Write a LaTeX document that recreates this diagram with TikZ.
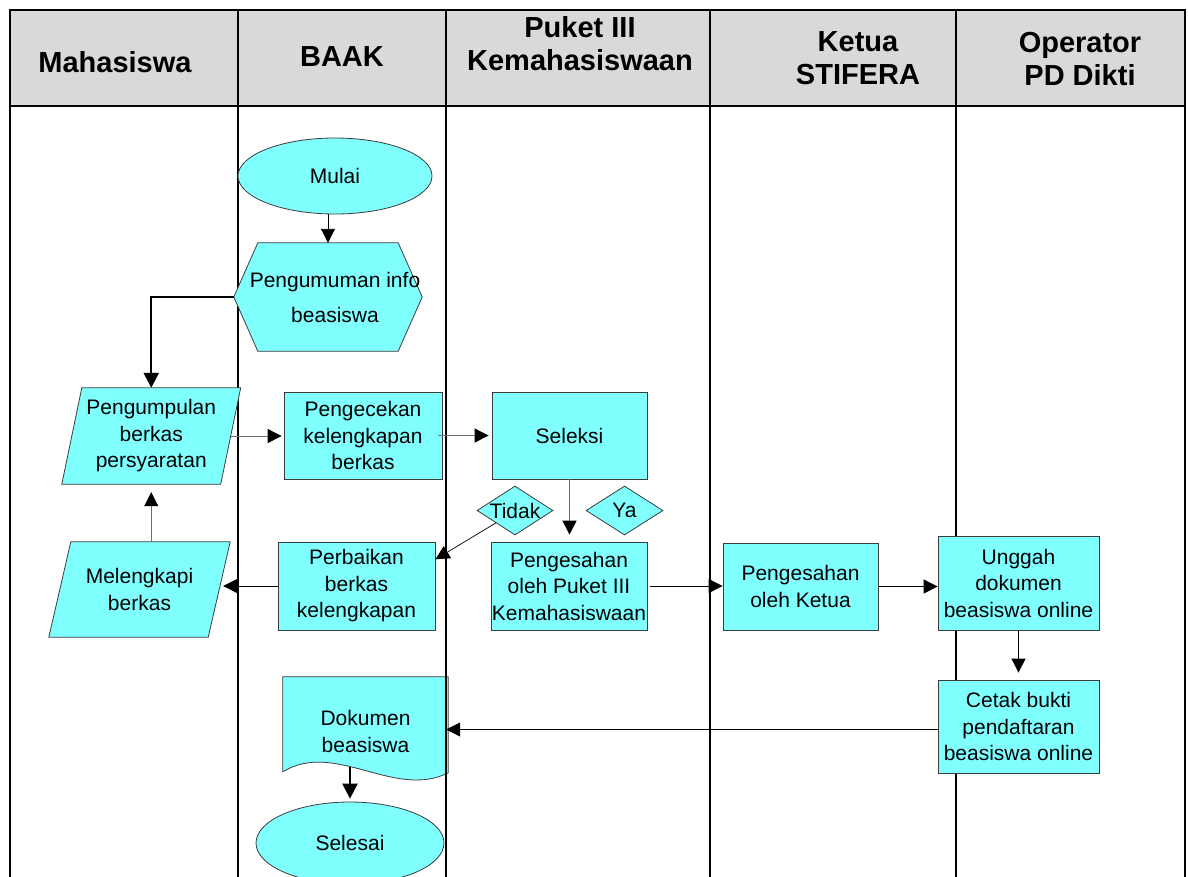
\documentclass[tikz,border=0pt]{standalone}
\usepackage{fontspec}
\setmainfont{Liberation Sans}
\usetikzlibrary{arrows.meta,shapes.geometric,calc,backgrounds}
\definecolor{fcyan}{HTML}{80FFFF}
\definecolor{hgray}{HTML}{D9D9D9}
\definecolor{edgec}{HTML}{3C3C3C}
\definecolor{linegray}{HTML}{707070}
\begin{document}
\begin{tikzpicture}[x=1pt,y=-1pt,
  lane/.style={line width=2.6pt, black},
  hdr/.style={font=\fontsize{29}{33}\selectfont\bfseries, align=center, inner sep=0pt},
  txt/.style={font=\fontsize{21}{26.5}\selectfont, align=center, inner sep=0pt},
  shp/.style={draw=edgec, fill=fcyan, line width=0.8pt},
  rbox/.style={shp, txt, rectangle},
  ell/.style={shp, txt, ellipse},
  dia/.style={shp, diamond, inner sep=0pt},
  holder/.style={txt, rectangle},
  arr/.style={line width=0.9pt, -{Triangle[length=14pt,width=14pt]}},
  garr/.style={line width=0.9pt, linegray, -{Triangle[length=14pt,width=14pt,color=black]}},
  tarr/.style={line width=2.4pt, -{Triangle[length=15pt,width=15pt]}}
]
\useasboundingbox (0,0) rectangle (1188,876);

% header texts
\node[hdr] (hM) at (115,62) {Mahasiswa};
\node[hdr] (hB) at (342,57) {BAAK};
\node[hdr] (hP) at (580,43.5) {Puket III\\Kemahasiswaan};
\node[hdr] (hK) at (858,58.5) {Ketua\\STIFERA};
\node[hdr] (hO) at (1080,58.5) {Operator\\PD Dikti};

% nodes
\node[ell, minimum width=194, minimum height=76] (mulai) at (335,176) {Mulai};
\node[holder, minimum width=188, minimum height=108, font=\fontsize{21}{35}\selectfont] (hex) at (328,297) {};
\node[txt, font=\fontsize{21}{35}\selectfont] (hexT) at (335,297) {Pengumuman info\\beasiswa};
\node[holder, minimum width=158.5, minimum height=96] (pk) at (151.25,436) {Pengumpulan\\berkas\\persyaratan};
\node[holder, minimum width=159, minimum height=95] (mel) at (139.5,589.5) {Melengkapi\\berkas};
\node[rbox, minimum width=158, minimum height=87] (cek) at (363,435.5) {Pengecekan\\kelengkapan\\berkas};
\node[rbox, minimum width=155, minimum height=87] (slk) at (569.5,435.5) {Seleksi};
\node[dia, minimum width=76, minimum height=49, label={[txt]center:Tidak}] (tidak) at (515,510.5) {};
\node[dia, minimum width=77, minimum height=49, label={[txt]center:Ya}] (ya) at (624.5,510.5) {};
\node[rbox, minimum width=157, minimum height=88] (perb) at (356.5,586) {Perbaikan\\berkas\\kelengkapan};
\node[rbox, minimum width=156, minimum height=88] (pkt) at (569,586) {Pengesahan\\oleh Puket III\\Kemahasiswaan};
\node[rbox, minimum width=155, minimum height=87] (ket) at (800.5,586.5) {Pengesahan\\oleh Ketua};
\node[rbox, minimum width=161, minimum height=94] (ung) at (1018.5,583) {Unggah\\dokumen\\beasiswa online};
\node[rbox, minimum width=161, minimum height=93] (cet) at (1018.5,726.5) {Cetak bukti\\pendaftaran\\beasiswa online};
\node[holder, minimum width=165, minimum height=109] (doc) at (365.5,731.5) {Dokumen\\beasiswa};
\node[ell, minimum width=188, minimum height=82] (fin) at (350,843) {Selesai};

% connectors
\draw[arr] (hex.north |- mulai.south) -- (hex.north);
\draw[tarr] (hex.west) -| (pk.north);
\draw[garr, shorten >=2pt] (pk.east) -- (pk.east -| cek.west);
\draw[garr, shorten >=3pt] ([xshift=-4pt]cek.east) -- (cek.east -| slk.west);
\draw[garr, shorten >=7pt] (slk.south) -- (slk.south |- pkt.north);
\draw[arr, line width=0.7pt] (tidak.south west) -- ($(perb.north east)!0.2!(perb.south east)$);
\draw[arr, shorten >=4pt] (perb.west) -- (perb.west -| mel.east);
\draw[garr, shorten >=8pt] (mel.north -| pk.south) -- (pk.south);
\draw[arr] ([xshift=3pt]pkt.east) -- (pkt.east -| ket.west);
\draw[arr] (ket.east) -- (ket.east -| ung.west);
\draw[arr, shorten >=7pt] (ung.south) -- (cet.north);
\draw[arr, shorten >=-2pt] ($(cet.west)+(0,3)$) -- ($(cet.west -| doc.east)+(0,3)$);

\begin{scope}[on background layer]
  \draw[tarr, shorten >=3pt] (fin.north |- doc.center) -- (fin.north);
  \draw[shp] (doc.north west) -- (doc.north east) -- ($(doc.north east)+(0,96)$)
     .. controls ($(doc.north west)+(112,123)$) and ($(doc.north west)+(52,63)$) ..
     ($(doc.north west)+(0,95)$) -- cycle;
  % swimlanes
  \fill[hgray] (10,10) rectangle (1185,106);
  \draw[lane] (10,880) -- (10,10) -- (1185,10) -- (1185,880);
  \draw[lane] (10,106) -- (1185,106);
  \foreach \xx in {238,446,710,956} \draw[lane] (\xx,10) -- (\xx,880);
  % shapes
  \draw[shp] (hex.west) -- ($(hex.north west)+(24,0)$) -- ($(hex.north east)+(-24,0)$)
     -- (hex.east) -- ($(hex.south east)+(-24,0)$) -- ($(hex.south west)+(24,0)$) -- cycle;
  \draw[shp] ($(pk.north west)+(10,0)$) -- ($(pk.north east)+(10,0)$)
     -- ($(pk.south east)+(-10,0)$) -- ($(pk.south west)+(-10,0)$) -- cycle;
  \draw[shp] ($(mel.north west)+(11,0)$) -- ($(mel.north east)+(11,0)$)
     -- ($(mel.south east)+(-11,0)$) -- ($(mel.south west)+(-11,0)$) -- cycle;
\end{scope}
\end{tikzpicture}
\end{document}
